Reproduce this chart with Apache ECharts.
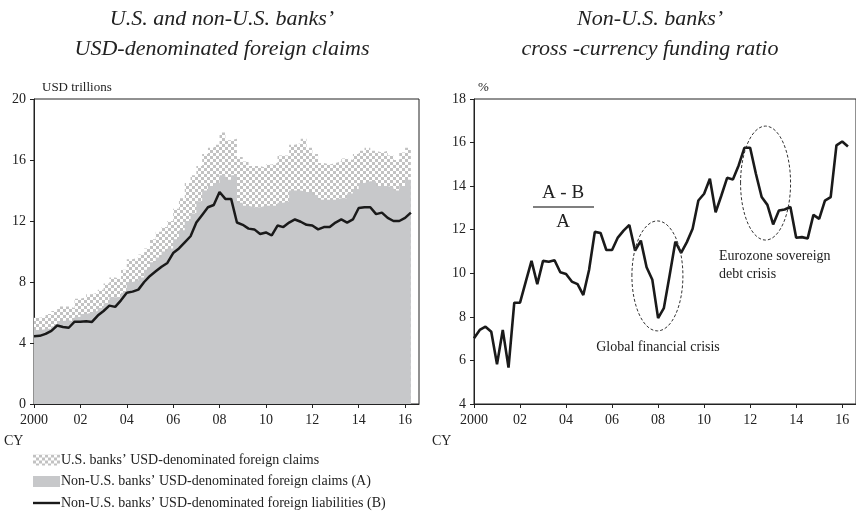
<!DOCTYPE html>
<html lang="en">
  <head>
    <meta charset="UTF-8" />
    <title>USD funding</title>
    <script src="https://cdn.jsdelivr.net/npm/echarts@6/dist/echarts.min.js"></script>
    <style>
      html, body { margin: 0; padding: 0; background: #fff; }
      #chart { width: 856px; height: 512px; }
    </style>
  </head>
  <body>
    <div id="chart"></div>
    <script>
      // quarterly, 2000Q1 .. 2016Q2
      var startYear = 2000;
      var totalClaims = [
        5.65, 5.7, 5.9, 6.1, 6.4, 6.4, 6.3, 6.9, 7.0, 7.2, 7.3, 7.5,
        7.9, 8.3, 8.2, 8.8, 9.5, 9.6, 9.8, 10.2, 10.8, 11.3, 11.6, 12.0,
        12.8, 13.5, 14.5, 15.0, 15.6, 16.4, 16.8, 17.0, 17.8, 17.3, 17.4, 16.2,
        15.9, 15.6, 15.6, 15.5, 15.7, 15.8, 16.3, 16.3, 17.0, 17.1, 17.4, 16.8,
        16.4, 15.8, 15.7, 15.8, 15.9, 16.1, 16.0, 16.4, 16.6, 16.8, 16.6, 16.5,
        16.6, 16.3, 16.0, 16.5, 16.8, 17.1
      ];
      var nonUsClaims = [
        4.85, 4.9, 4.95, 5.1, 5.45, 5.5, 5.4, 5.7, 5.9, 6.0, 6.1, 6.3,
        6.6, 7.0, 7.0, 7.3, 8.0, 8.1, 8.3, 8.8, 9.3, 9.6, 10.0, 10.2,
        10.8, 11.4, 12.0, 12.5, 13.3, 14.0, 14.3, 14.5, 15.0, 14.7, 15.0, 13.2,
        13.0, 12.9, 12.9, 13.0, 13.0, 13.0, 13.2, 13.3, 14.0, 14.0, 13.9, 13.9,
        13.7, 13.4, 13.4, 13.4, 13.5, 13.5, 13.8, 14.1, 14.5, 14.6, 14.6, 14.3,
        14.3, 14.2, 14.0, 14.3, 14.7, 15.0
      ];
      var nonUsLiabilities = [
        4.45, 4.47, 4.6, 4.8, 5.15, 5.05, 5.0, 5.4, 5.4, 5.42, 5.38, 5.8,
        6.1, 6.45, 6.37, 6.8, 7.3, 7.37, 7.5, 8.0, 8.4, 8.7, 9.0, 9.25,
        9.9, 10.2, 10.6, 11.0, 11.9, 12.4, 12.9, 13.05, 13.9, 13.45, 13.45, 11.9,
        11.75, 11.5, 11.45, 11.15, 11.25, 11.05, 11.7, 11.6, 11.9, 12.1, 11.95, 11.75,
        11.7, 11.45, 11.6, 11.6, 11.9, 12.1, 11.9, 12.1, 12.85, 12.9, 12.9, 12.45,
        12.55, 12.2, 12.0, 12.0, 12.2, 12.55
      ];
      var fundingRatio = [
        7.02, 7.4, 7.55, 7.32, 5.82, 7.4, 5.67, 8.65, 8.65, 9.62, 10.57, 9.5,
        10.57, 10.53, 10.6, 10.05, 9.97, 9.62, 9.5, 9.0, 10.15, 11.9, 11.85, 11.07,
        11.07, 11.64, 11.96, 12.22, 11.04, 11.5, 10.28, 9.7, 7.94, 8.4, 9.9, 11.45,
        10.94, 11.43, 12.04, 13.34, 13.65, 14.34, 12.8, 13.57, 14.38, 14.31, 14.95, 15.76,
        15.76, 14.57, 13.5, 13.14, 12.24, 12.88, 12.93, 13.04, 11.63, 11.66, 11.6, 12.68,
        12.5, 13.34, 13.5, 15.87, 16.05, 15.82
      ];
      var leftYTicks = { min: 0, max: 20, interval: 4 };
      var rightYTicks = { min: 4, max: 18, interval: 2 };

      var serif = "'Liberation Serif', 'DejaVu Serif', serif";
      var ink = "#222";
      var grey = "#c7c8ca";

      function quarters(arr) {
        return arr.map(function (v, i) {
          return [startYear + i * 0.25, v];
        });
      }

      function checker() {
        var c = document.createElement("canvas");
        c.width = 6;
        c.height = 6;
        var g = c.getContext("2d");
        g.fillStyle = "#ffffff";
        g.fillRect(0, 0, 6, 6);
        g.fillStyle = "#c2c2c2";
        g.fillRect(0, 0, 3, 3);
        g.fillRect(3, 3, 3, 3);
        return { image: c, repeat: "repeat" };
      }
      var pattern = checker();

      function xAxis(gridIndex) {
        return {
          type: "value",
          gridIndex: gridIndex,
          min: 2000,
          max: 2016.6,
          interval: 2,
          splitLine: { show: false },
          axisLine: { lineStyle: { color: ink, width: 1 } },
          axisTick: { length: 4, lineStyle: { color: ink } },
          axisLabel: {
            showMaxLabel: false,
            color: ink,
            fontFamily: serif,
            fontSize: 14,
            margin: 9,
            formatter: function (v) {
              if (v === 2000) return "2000";
              var s = String(Math.round(v) % 100);
              return s.length < 2 ? "0" + s : s;
            },
          },
        };
      }

      function yAxis(gridIndex, t) {
        return {
          type: "value",
          gridIndex: gridIndex,
          min: t.min,
          max: t.max,
          interval: t.interval,
          splitLine: { show: false },
          axisLine: { show: true, lineStyle: { color: ink, width: 1 } },
          axisTick: { show: true, length: 4, lineStyle: { color: ink } },
          axisLabel: { color: ink, fontFamily: serif, fontSize: 14, margin: 8 },
        };
      }

      var names = [
        "U.S. banks\u2019 USD-denominated foreign claims",
        "Non-U.S. banks\u2019 USD-denominated foreign claims (A)",
        "Non-U.S. banks\u2019 USD-denominated foreign liabilities (B)",
      ];
      var titleStyle = {
        fontFamily: serif,
        fontStyle: "italic",
        fontWeight: "normal",
        fontSize: 22,
        lineHeight: 30,
        color: ink,
      };

      var mCharts = echarts.init(document.getElementById("chart"));
      mCharts.setOption({
        animation: false,
        title: [
          {
            text: "U.S. and non-U.S. banks\u2019\nUSD-denominated foreign claims",
            left: 217,
            top: -1,
            textAlign: "center",
            textStyle: titleStyle,
          },
          {
            text: "Non-U.S. banks\u2019\ncross -currency funding ratio",
            left: 645,
            top: -1,
            textAlign: "center",
            textStyle: titleStyle,
          },
        ],
        grid: [
          { left: 34, top: 99, width: 385, height: 305, show: true, borderColor: ink, borderWidth: 1 },
          { left: 474, top: 99, width: 386, height: 305, show: true, borderColor: ink, borderWidth: 1 },
        ],
        xAxis: [xAxis(0), xAxis(1)],
        yAxis: [yAxis(0, leftYTicks), yAxis(1, rightYTicks)],
        legend: {
          orient: "vertical",
          left: 33,
          top: 453,
          height: 80,
          padding: 0,
          itemWidth: 27,
          itemHeight: 11,
          itemGap: 7.5,
          textStyle: { fontFamily: serif, fontSize: 14, lineHeight: 14, color: ink, padding: [0, 0, 0, -4] },
          data: [
            { name: names[0], icon: "rect", itemStyle: { color: pattern } },
            { name: names[1], icon: "rect", itemStyle: { color: grey } },
            { name: names[2], icon: "path://M0,0h27v2.4h-27z", itemStyle: { color: "#1a1a1a" } },
          ],
        },
        series: [
          {
            name: names[0],
            type: "line",
            xAxisIndex: 0,
            yAxisIndex: 0,
            step: "end",
            symbol: "none",
            data: quarters(totalClaims),
            itemStyle: { color: pattern },
            lineStyle: { width: 0 },
            areaStyle: { color: pattern, opacity: 1 },
            z: 1,
          },
          {
            name: names[1],
            type: "line",
            xAxisIndex: 0,
            yAxisIndex: 0,
            step: "end",
            symbol: "none",
            data: quarters(nonUsClaims),
            itemStyle: { color: grey },
            lineStyle: { width: 0 },
            areaStyle: { color: grey, opacity: 1 },
            z: 2,
          },
          {
            name: names[2],
            type: "line",
            xAxisIndex: 0,
            yAxisIndex: 0,
            symbol: "none",
            data: quarters(nonUsLiabilities),
            itemStyle: { color: "#1a1a1a" },
            lineStyle: { color: "#1a1a1a", width: 2.5 },
            z: 3,
          },
          {
            name: "ratio",
            type: "line",
            xAxisIndex: 1,
            yAxisIndex: 1,
            symbol: "none",
            data: quarters(fundingRatio),
            lineStyle: { color: "#1a1a1a", width: 2.6 },
            z: 3,
          },
        ],
      });

      // annotations
      var gfc = mCharts.convertToPixel({ gridIndex: 1 }, [2007.97, 9.88]);
      var euro = mCharts.convertToPixel({ gridIndex: 1 }, [2012.67, 14.14]);
      var txt = function (x, y, text, opt) {
        return {
          type: "text",
          x: x,
          y: y,
          style: Object.assign(
            { text: text, fill: ink, font: "14px " + serif, textAlign: "left", textVerticalAlign: "middle" },
            opt || {}
          ),
        };
      };
      mCharts.setOption({
        graphic: [
          txt(42, 88, "USD trillions", { font: "13px " + serif }),
          txt(478, 88, "%", { font: "13px " + serif }),
          txt(4, 441, "CY"),
          txt(432, 441, "CY"),
          txt(563, 193, "A - B", { font: "19px " + serif, textAlign: "center" }),
          {
            type: "line",
            shape: { x1: 533, y1: 207, x2: 594, y2: 207 },
            style: { stroke: "#555", lineWidth: 1.5 },
          },
          txt(563, 222, "A", { font: "19px " + serif, textAlign: "center" }),
          {
            type: "ellipse",
            shape: { cx: gfc[0], cy: gfc[1], rx: 25.5, ry: 55 },
            style: { fill: "none", stroke: "#333", lineWidth: 1, lineDash: [3, 2] },
            z: 10,
          },
          {
            type: "ellipse",
            shape: { cx: euro[0], cy: euro[1], rx: 25, ry: 57 },
            style: { fill: "none", stroke: "#333", lineWidth: 1, lineDash: [3, 2] },
            z: 10,
          },
          txt(658, 347, "Global financial crisis", { textAlign: "center" }),
          txt(719, 256, "Eurozone sovereign"),
          txt(719, 274, "debt crisis"),
        ],
      });
      window.onresize = mCharts.resize;
    </script>
  </body>
</html>
